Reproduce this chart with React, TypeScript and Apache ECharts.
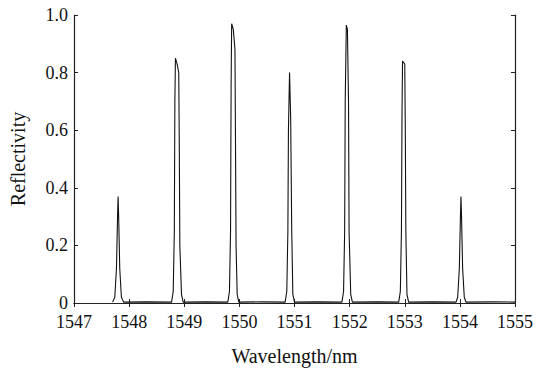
import React, { useEffect, useRef } from "react";
import * as echarts from "echarts";

const wavelength: number[] = [
  1547.7, 1547.74, 1547.77, 1547.79, 1547.8, 1547.81, 1547.83, 1547.86, 1547.9,
  1548.3, 1548.77, 1548.8, 1548.82, 1548.83, 1548.84, 1548.87, 1548.9, 1548.91, 1548.92, 1548.95, 1548.98,
  1549.4, 1549.79, 1549.82, 1549.84, 1549.85, 1549.86, 1549.89, 1549.92, 1549.93, 1549.94, 1549.96, 1549.99,
  1550.4, 1550.83, 1550.86, 1550.88, 1550.89, 1550.91, 1550.93, 1550.95, 1550.97, 1551.0,
  1551.4, 1551.86, 1551.89, 1551.91, 1551.92, 1551.94, 1551.96, 1551.98, 1551.99, 1552.02, 1552.05,
  1552.5, 1552.89, 1552.92, 1552.94, 1552.95, 1552.96, 1553.0, 1553.01, 1553.02, 1553.04, 1553.07,
  1553.5, 1553.93, 1553.96, 1553.99, 1554.01, 1554.02, 1554.03, 1554.05, 1554.08, 1554.11,
  1554.6, 1555.0,
];

const reflectivity: number[] = [
  0.003, 0.02, 0.12, 0.3, 0.37, 0.3, 0.12, 0.02, 0.003,
  0.004, 0.003, 0.04, 0.25, 0.7, 0.85, 0.83, 0.8, 0.55, 0.2, 0.03, 0.003,
  0.004, 0.003, 0.04, 0.25, 0.75, 0.97, 0.95, 0.88, 0.55, 0.2, 0.03, 0.003,
  0.004, 0.003, 0.04, 0.25, 0.6, 0.8, 0.65, 0.25, 0.03, 0.003,
  0.004, 0.003, 0.04, 0.25, 0.7, 0.965, 0.95, 0.7, 0.25, 0.03, 0.003,
  0.004, 0.003, 0.04, 0.25, 0.65, 0.84, 0.83, 0.6, 0.25, 0.03, 0.003,
  0.004, 0.003, 0.02, 0.12, 0.3, 0.37, 0.3, 0.12, 0.02, 0.003,
  0.004, 0.003,
];

const xTitle = "Wavelength/nm";
const yTitle = "Reflectivity";

export default function App() {
  const ref = useRef<HTMLDivElement>(null);
  useEffect(() => {
    if (!ref.current) return;
    const chart = echarts.init(ref.current, null, { renderer: "svg" });
    const font = "Liberation Serif, Times New Roman, DejaVu Serif, serif";
    const axisLine = { show: true, lineStyle: { color: "#222", width: 1.2 } };
    const axisTick = { show: true, inside: true, length: 4, lineStyle: { color: "#222", width: 1 } };
    chart.setOption({
      animation: false,
      backgroundColor: "#ffffff",
      textStyle: { fontFamily: font },
      grid: { left: 73, right: 19, top: 15, bottom: 61, containLabel: false },
      xAxis: [
        {
          type: "value",
          min: 1547,
          max: 1555,
          interval: 1,
          position: "bottom",
          axisLine,
          axisTick,
          splitLine: { show: false },
          axisLabel: {
            color: "#111",
            fontFamily: font,
            fontSize: 18,
            margin: 10,
            formatter: (v: number) => String(v),
          },
          name: xTitle,
          nameLocation: "middle",
          nameGap: 43,
          nameTextStyle: { color: "#111", fontFamily: font, fontSize: 20 },
        },
        {
          type: "value",
          min: 1547,
          max: 1555,
          interval: 1,
          position: "top",
          axisLine,
          axisTick,
          splitLine: { show: false },
          axisLabel: { show: false },
        },
      ],
      yAxis: [
        {
          type: "value",
          min: 0,
          max: 1,
          interval: 0.2,
          position: "left",
          axisLine,
          axisTick,
          splitLine: { show: false },
          axisLabel: {
            color: "#111",
            fontFamily: font,
            fontSize: 18,
            margin: 6,
            formatter: (v: number) => (v === 0 ? "0" : v.toFixed(1)),
          },
          name: yTitle,
          nameLocation: "middle",
          nameGap: 46,
          nameTextStyle: { color: "#111", fontFamily: font, fontSize: 20 },
        },
        {
          type: "value",
          min: 0,
          max: 1,
          interval: 0.2,
          position: "right",
          axisLine,
          axisTick,
          splitLine: { show: false },
          axisLabel: { show: false },
        },
      ],
      series: [
        {
          type: "line",
          data: wavelength.map((w, i) => [w, reflectivity[i]]),
          showSymbol: false,
          symbol: "none",
          lineStyle: { color: "#111", width: 1.1 },
          xAxisIndex: 0,
          yAxisIndex: 0,
        },
      ],
    });
    return () => chart.dispose();
  }, []);
  return (
    <div
      ref={ref}
      style={{ position: "fixed", left: 0, top: 0, width: 536, height: 371, background: "#fff" }}
    />
  );
}
